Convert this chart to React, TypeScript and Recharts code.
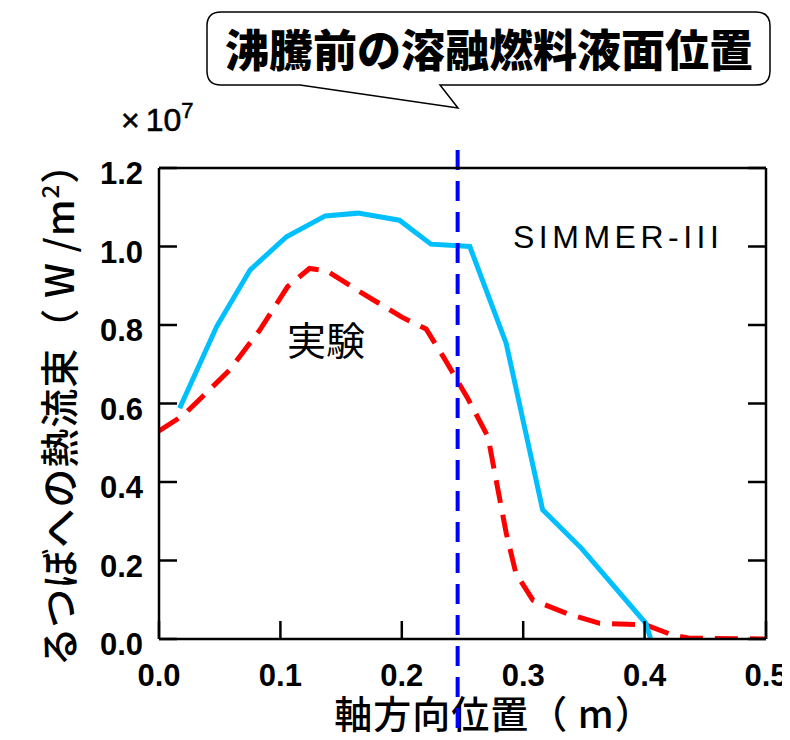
import React from 'react';
import { LineChart, Line, XAxis, YAxis, ReferenceLine, Customized } from 'recharts';

const xTicks = [0, 0.1, 0.2, 0.3, 0.4, 0.5];
const yTicks = [0, 0.2, 0.4, 0.6, 0.8, 1.0, 1.2];

const simmerX = [0.017, 0.0475, 0.075, 0.105, 0.137, 0.164, 0.198, 0.224, 0.256, 0.286, 0.316, 0.348, 0.401, 0.405];
const simmerY = [0.588, 0.796, 0.94, 1.025, 1.078, 1.085, 1.067, 1.006, 1.0, 0.753, 0.329, 0.231, 0.04, 0.0];

const expX = [0, 0.02, 0.04, 0.058, 0.083, 0.106, 0.124, 0.138, 0.168, 0.2, 0.22, 0.234, 0.254, 0.271, 0.278, 0.286, 0.294, 0.308, 0.336, 0.363, 0.401, 0.423, 0.437, 0.5];
const expY = [0.53, 0.57, 0.63, 0.685, 0.787, 0.898, 0.944, 0.938, 0.88, 0.82, 0.79, 0.72, 0.615, 0.515, 0.4, 0.27, 0.167, 0.099, 0.065, 0.04, 0.036, 0.01, 0.002, 0.0];

const levelX = 0.246;

const simmerData = simmerX.map((x, i) => ({ x, y: simmerY[i] }));
const expData = expX.map((x, i) => ({ x, y: expY[i] }));

const NUM_FONT = '"Liberation Sans", Arial, sans-serif';
const JP_FONT = '"Noto Sans CJK JP", "Noto Sans", sans-serif';
const TICK_LEN = 18;

const BottomTick = (p: any) => (
  <g>
    <line x1={p.x} y1={p.y} x2={p.x} y2={p.y - TICK_LEN} stroke="#000" strokeWidth={2.5} />
    <text x={p.x} y={p.y + 47} textAnchor="middle" fill="#000"
      style={{ fontFamily: NUM_FONT, fontWeight: 'bold', fontSize: 31 }}>
      {Number(p.payload.value).toFixed(1)}
    </text>
  </g>
);

const TopTick = (p: any) => (
  <line x1={p.x} y1={p.y} x2={p.x} y2={p.y + TICK_LEN} stroke="#000" strokeWidth={2.5} />
);

const LeftTick = (p: any) => (
  <g>
    <line x1={p.x} y1={p.y} x2={p.x + TICK_LEN} y2={p.y} stroke="#000" strokeWidth={2.5} />
    <text x={p.x - 16} y={p.y + 16} textAnchor="end" fill="#000"
      style={{ fontFamily: NUM_FONT, fontWeight: 'bold', fontSize: 31 }}>
      {Number(p.payload.value).toFixed(1)}
    </text>
  </g>
);

const RightTick = (p: any) => (
  <line x1={p.x} y1={p.y} x2={p.x - TICK_LEN} y2={p.y} stroke="#000" strokeWidth={2.5} />
);

const LevelLine = (p: any) => {
  const top = Math.min(p.y1, p.y2);
  const bottom = Math.max(p.y1, p.y2);
  return (
    <line x1={p.x1} x2={p.x2} y1={top - 18} y2={bottom + 96} stroke="#0000FF" strokeWidth={4} strokeDasharray="20 11" />
  );
};

const Decorations = () => (
  <g>
    <path
      d="M213,4 L748,4 Q762,4 762,18 L762,63 Q762,77 748,77 L432,77 L450,100 L292,77 L213,77 Q199,77 199,63 L199,18 Q199,4 213,4 Z"
      fill="#fff"
      stroke="#000"
      strokeWidth={1.5}
    />
    <text x={481} y={59} textAnchor="middle" fill="#000"
      style={{ fontFamily: JP_FONT, fontWeight: 900, fontSize: 44 }}>
      沸騰前の溶融燃料液面位置
    </text>
    <text x={113} y={123} fill="#000" stroke="#000" strokeWidth={0.6}
      style={{ fontFamily: NUM_FONT, fontSize: 32 }}>
      ×<tspan dx={6}>10</tspan><tspan dy={-13} style={{ fontSize: 22 }}>7</tspan>
    </text>
    <text x={486} y={720} textAnchor="middle" fill="#000"
      style={{ fontFamily: JP_FONT, fontWeight: 500, fontSize: 38, letterSpacing: 1 }}>
      軸方向位置（ m）
    </text>
    <text transform="translate(66,397) rotate(-90)" textAnchor="middle" fill="#000"
      style={{ fontFamily: JP_FONT, fontWeight: 500, fontSize: 39, letterSpacing: 1 }}>
      るつぼへの熱流束（ W /m<tspan dy={-15} style={{ fontSize: 24 }}>2</tspan><tspan dy={15}>）</tspan>
    </text>
    <text x={318} y={347} textAnchor="middle" fill="#000" style={{ fontFamily: JP_FONT, fontSize: 39 }}>
      実験
    </text>
    <text x={505} y={240} fill="#000" style={{ fontFamily: NUM_FONT, fontSize: 32, letterSpacing: 4.5 }}>
      SIMMER-III
    </text>
  </g>
);

export default function App() {
  return (
    <LineChart
      width={782}
      height={732}
      margin={{ top: 140, right: 4, bottom: 71, left: 91 }}
      style={{ background: '#fff' }}
    >
      <XAxis
        xAxisId={0}
        dataKey="x"
        type="number"
        domain={[0, 0.5]}
        ticks={xTicks}
        interval={0}
        allowDataOverflow
        height={30}
        tickSize={0}
        tickMargin={0}
        tick={<BottomTick />}
        axisLine={{ stroke: '#000', strokeWidth: 2.5 }}
        tickLine={false}
      />
      <XAxis
        xAxisId="top"
        orientation="top"
        type="number"
        domain={[0, 0.5]}
        ticks={xTicks}
        interval={0}
        allowDataOverflow
        height={20}
        tickSize={0}
        tickMargin={0}
        tick={<TopTick />}
        axisLine={{ stroke: '#000', strokeWidth: 2.5 }}
        tickLine={false}
      />
      <YAxis
        yAxisId={0}
        type="number"
        domain={[0, 1.2]}
        ticks={yTicks}
        interval={0}
        allowDataOverflow
        width={60}
        tickSize={0}
        tickMargin={0}
        tick={<LeftTick />}
        axisLine={{ stroke: '#000', strokeWidth: 2.5 }}
        tickLine={false}
      />
      <YAxis
        yAxisId="right"
        orientation="right"
        type="number"
        domain={[0, 1.2]}
        ticks={yTicks}
        interval={0}
        allowDataOverflow
        width={20}
        tickSize={0}
        tickMargin={0}
        tick={<RightTick />}
        axisLine={{ stroke: '#000', strokeWidth: 2.5 }}
        tickLine={false}
      />
      <Line
        data={expData}
        dataKey="y"
        xAxisId={0}
        yAxisId={0}
        type="linear"
        stroke="#FF0000"
        strokeWidth={5}
        strokeDasharray="23 12"
        dot={false}
        isAnimationActive={false}
      />
      <Line
        data={simmerData}
        dataKey="y"
        xAxisId={0}
        yAxisId={0}
        type="linear"
        stroke="#00BFFF"
        strokeWidth={5}
        dot={false}
        isAnimationActive={false}
      />
      <ReferenceLine x={levelX} xAxisId={0} yAxisId={0} ifOverflow="visible" shape={LevelLine} />
      <Customized component={Decorations} />
    </LineChart>
  );
}
